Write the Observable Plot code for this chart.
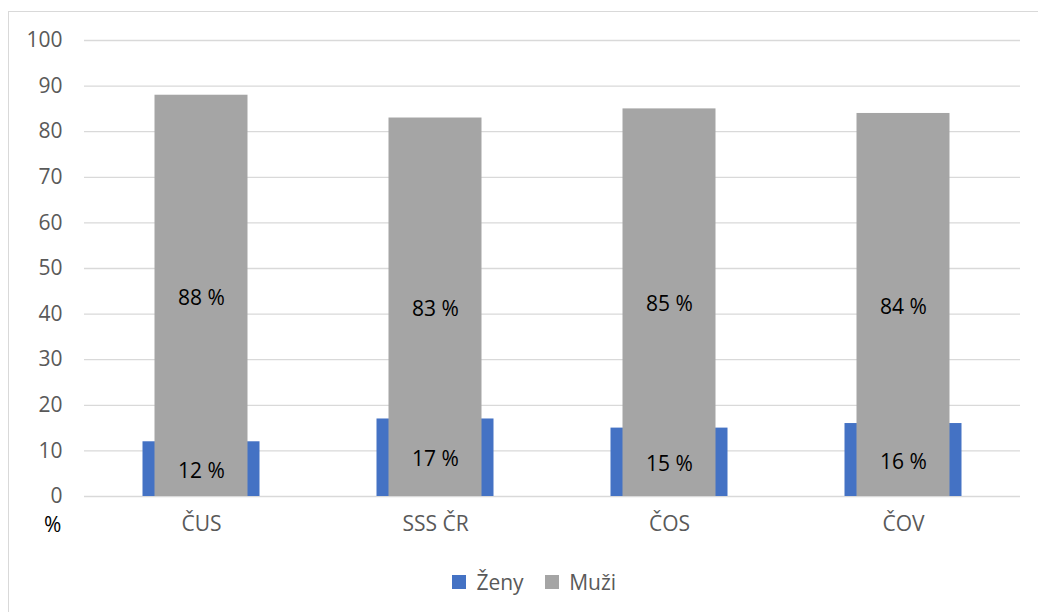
<!DOCTYPE html>
<html><head><meta charset="utf-8">
<script src="https://cdn.jsdelivr.net/npm/d3@7"></script>
<script src="https://cdn.jsdelivr.net/npm/@observablehq/plot@0.6"></script>
<style>
html,body{margin:0;padding:0;background:#fff;width:1038px;height:612px;overflow:hidden;font-family:"Open Sans",sans-serif;}
#frame{position:absolute;left:8px;top:11px;width:1040px;height:620px;border:1.5px solid #d9d9d9;box-sizing:border-box;}
#chart{position:absolute;left:0;top:0;}
#pct{position:absolute;left:44px;top:510px;font-size:21px;color:#000;}
#legend{position:absolute;left:14px;top:565px;width:1061px;display:flex;justify-content:center;}
</style></head>
<body>
<div id="frame"></div>
<div id="chart"></div>
<div id="pct">%</div>
<div id="legend"></div>
<script>
const categories = ["ČUS", "SSS ČR", "ČOS", "ČOV"];
const zeny = [12, 17, 15, 16];
const muzi = [88, 83, 85, 84];
const series = ["Ženy", "Muži"];
const colors = ["#4472C4", "#A5A5A5"];
const yTicks = [0, 10, 20, 30, 40, 50, 60, 70, 80, 90, 100];

const dZ = categories.map((c, i) => ({cat: c, v: zeny[i], s: "Ženy"}));
const dM = categories.map((c, i) => ({cat: c, v: muzi[i], s: "Muži"}));

const chart = Plot.plot({
  width: 1038,
  height: 540,
  marginLeft: 84,
  marginRight: 18,
  marginTop: 40,
  marginBottom: 44,
  style: {fontFamily: "'Open Sans', sans-serif", fontSize: "21px", color: "#595959", background: "transparent"},
  x: {domain: categories, padding: 0, label: null},
  y: {domain: [0, 100], label: null},
  color: {domain: series, range: colors},
  marks: [
    Plot.ruleY(yTicks, {stroke: "#d9d9d9", strokeWidth: 1.3}),
    Plot.axisY({ticks: yTicks, tickSize: 0, tickPadding: 22, label: null, fill: "#595959"}),
    Plot.axisX({tickSize: 0, tickPadding: 20, label: null, fill: "#595959"}),
    Plot.barY(dZ, {x: "cat", y: "v", fill: "#4472C4", insetLeft: 58.5, insetRight: 58.5}),
    Plot.barY(dM, {x: "cat", y: "v", fill: "#A5A5A5", insetLeft: 70.5, insetRight: 70.5}),
    Plot.text(dM, {x: "cat", y: d => d.v / 2, text: d => d.v + " %", fill: "#000", fontSize: 21, dy: 2}),
    Plot.text(dZ, {x: "cat", y: d => d.v / 2, text: d => d.v + " %", fill: "#000", fontSize: 21, dy: 2})
  ]
});
document.getElementById("chart").appendChild(chart);

const leg = Plot.legend({
  color: {domain: series, range: colors},
  legend: "swatches",
  swatchSize: 14,
  style: {fontFamily: "'Open Sans', sans-serif", fontSize: "21px", color: "#595959"}
});
document.getElementById("legend").appendChild(leg);
</script>
</body></html>
